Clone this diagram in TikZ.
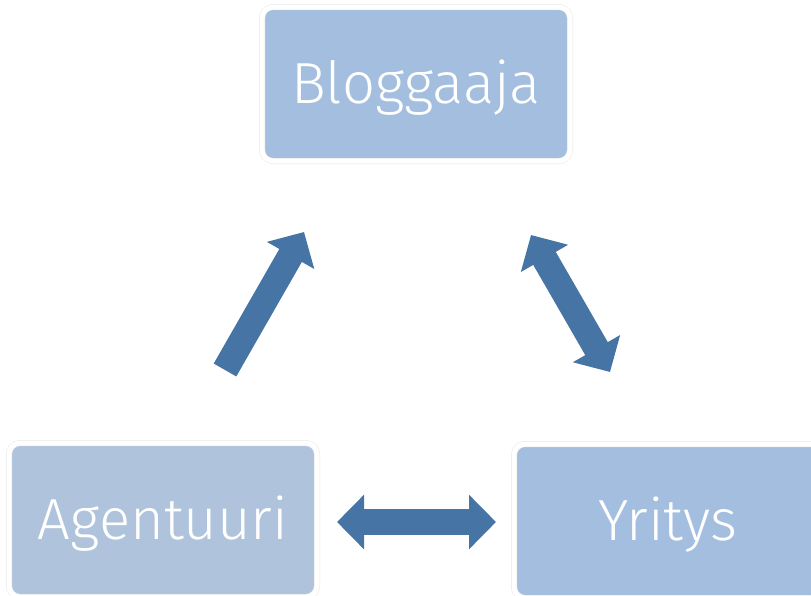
\documentclass[tikz,border=0pt]{standalone}
\usepackage{fontspec}
\setmainfont{Fira Sans Light}
\usetikzlibrary{arrows.meta}
\definecolor{boxblue}{RGB}{163,190,222}
\definecolor{boxgrey}{RGB}{175,195,220}
\definecolor{arrowblue}{RGB}{70,116,165}

\begin{document}
\begin{tikzpicture}[x=1pt,y=-1pt,
    box/.style={rounded corners=11pt,minimum width=308pt,minimum height=154pt,inner sep=0pt,
      draw=black!9,line width=.5pt,double=white,double distance=5pt,
      text=white,font=\fontsize{58}{64}\selectfont,text height=39pt,text depth=0pt},
    fat/.style={draw=arrowblue,line width=26pt,-{Triangle[width=53pt,length=27pt]}},
    fatboth/.style={fat,{Triangle[width=53pt,length=27pt]}-{Triangle[width=53pt,length=27pt]}}]
        \useasboundingbox (0,0) rectangle (811,595);
        \node[box,fill=boxblue] (blog) at (416,84) {Bloggaaja};
        \node[box,fill=boxgrey] (agent) at (163,520) {Agentuuri};
        \node[box,fill=boxblue] (firm) at (668,521) {Yritys};
        \draw[fat] ([shift={(62,-150)}]agent.center) -- ([shift={(-112,148)}]blog.center);
        \draw[fatboth] ([shift={(115,151)}]blog.center) -- ([shift={(-58,-149)}]firm.center);
        \draw[fatboth] ([shift={(174,2)}]agent.center) -- ([shift={(-172,1)}]firm.center);
    \end{tikzpicture}
\end{document}
